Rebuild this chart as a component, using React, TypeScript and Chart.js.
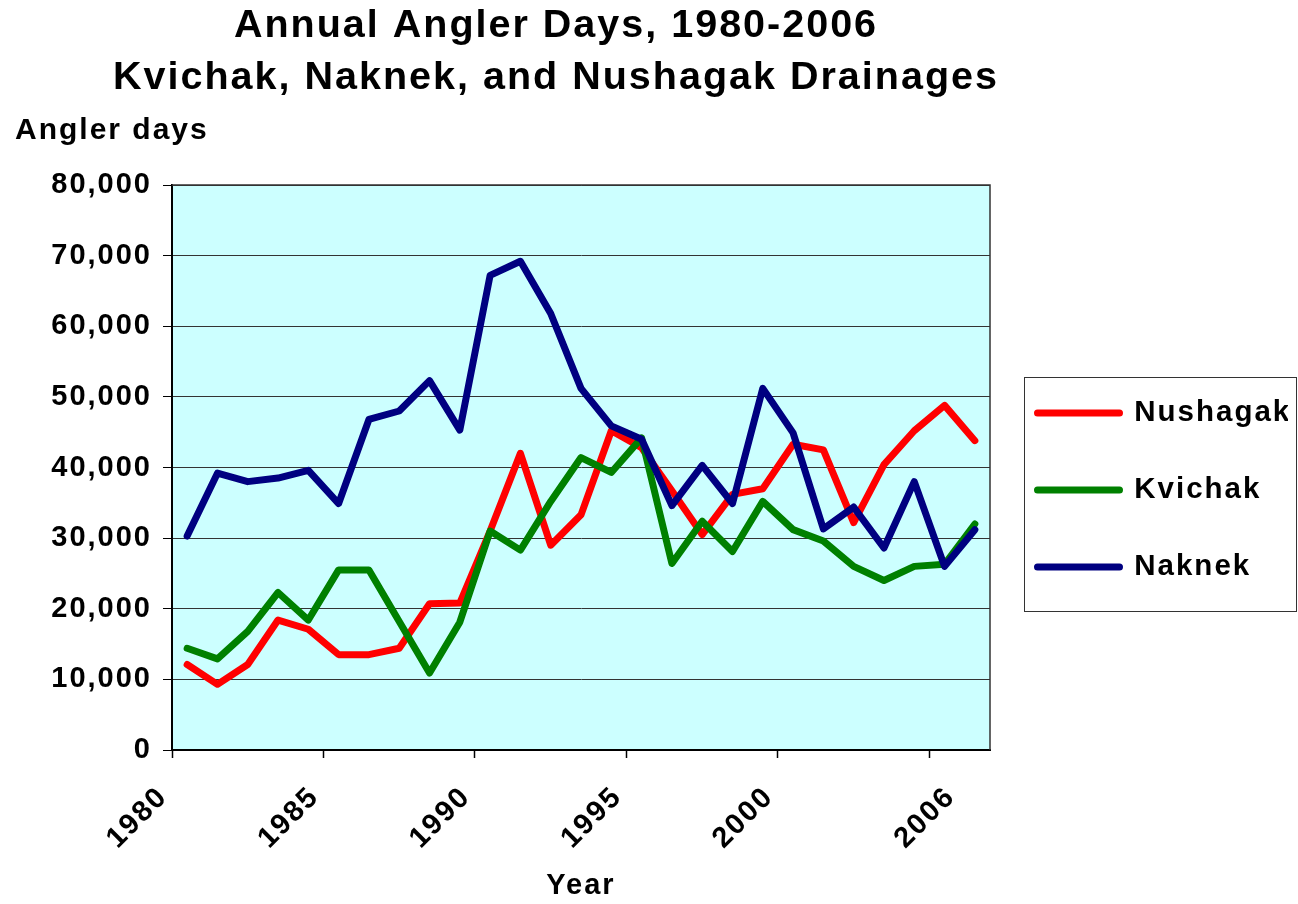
import React, { useEffect, useRef } from "react";
import { Chart, registerables } from "chart.js";

Chart.register(...registerables);

// ---------- data ----------
const years = [
  "1980", "1981", "1982", "1983", "1984", "1985", "1986", "1987", "1988",
  "1989", "1990", "1991", "1992", "1993", "1994", "1995", "1996", "1997",
  "1998", "1999", "2000", "2001", "2002", "2003", "2004", "2005", "2006",
];
const labeledYears = ["1980", "1985", "1990", "1995", "2000", "2006"];

const nushagak = [
  12100, 9300, 12100, 18400, 17100, 13500, 13500, 14400, 20700, 20800,
  31000, 42000, 29000, 33300, 45200, 42800, 36700, 30500, 36200, 37000,
  43300, 42500, 32200, 40400, 45200, 48800, 43800,
];
const kvichak = [
  14400, 12900, 16800, 22300, 18400, 25500, 25500, 18200, 10900, 18100,
  31000, 28300, 35200, 41400, 39300, 44200, 26400, 32400, 28100, 35200,
  31200, 29600, 26000, 24000, 26000, 26300, 32000,
];
const naknek = [
  30300, 39200, 38000, 38500, 39600, 34900, 46800, 48000, 52300, 45300,
  67200, 69200, 61800, 51200, 45900, 44000, 34600, 40300, 34900, 51200,
  44900, 31300, 34400, 28600, 38000, 26000, 31200,
];

const seriesNames = ["Nushagak", "Kvichak", "Naknek"];
const yMin = 0;
const yMax = 80000;
const yStep = 10000;

const titleLines = [
  "Annual Angler Days, 1980-2006",
  "Kvichak, Naknek, and Nushagak Drainages",
];
const yAxisTitle = "Angler days";
const xAxisTitle = "Year";

// ---------- styles ----------
const FAMILY = "'Liberation Sans', Arial, Helvetica, sans-serif";
const SPACING = "2px";

const chartPlugin = {
  id: "excelLook",
  beforeUpdate(chart: any) {
    chart.ctx.letterSpacing = SPACING;
  },
  afterLayout(chart: any) {
    const t = chart.titleBlock;
    if (t) {
      t.left = 100;
      t.right = 1012;
    }
    const lg = chart.legend;
    if (lg) {
      lg.top = 76;
    }
  },
  beforeDraw(chart: any) {
    const { ctx, chartArea } = chart;
    ctx.letterSpacing = SPACING;
    ctx.save();
    ctx.fillStyle = "#CCFFFF";
    ctx.fillRect(
      chartArea.left,
      chartArea.top,
      chartArea.right - chartArea.left,
      chartArea.bottom - chartArea.top
    );
    ctx.restore();
  },
  afterDraw(chart: any) {
    const { ctx, chartArea } = chart;
    ctx.save();
    ctx.strokeStyle = "#333333";
    ctx.lineWidth = 1.5;
    ctx.beginPath();
    ctx.moveTo(chartArea.left, chartArea.top);
    ctx.lineTo(chartArea.right, chartArea.top);
    ctx.lineTo(chartArea.right, chartArea.bottom);
    ctx.stroke();

    const lg = chart.legend;
    if (lg && lg.legendHitBoxes && lg.legendHitBoxes.length) {
      const hb = lg.legendHitBoxes;
      const first = hb[0];
      const last = hb[hb.length - 1];
      const left = Math.round(first.left - 14) + 0.5;
      const top = Math.round(first.top - 21) + 0.5;
      const bottom = Math.round(last.top + last.height + 29) + 0.5;
      const right = chart.width - 1.5;
      ctx.strokeStyle = "#333333";
      ctx.lineWidth = 1;
      ctx.strokeRect(left, top, right - left, bottom - top);
    }
    ctx.restore();
  },
};

export default function App() {
  const canvasRef = useRef<HTMLCanvasElement | null>(null);

  useEffect(() => {
    const canvas = canvasRef.current;
    if (!canvas) return;

    const font = (size: number) => ({ family: FAMILY, size, weight: "bold" as const });

    const mk = (label: string, data: number[], color: string, order: number) => ({
      label,
      data,
      borderColor: color,
      backgroundColor: color,
      borderWidth: 7,
      pointRadius: 0,
      pointHoverRadius: 0,
      borderJoinStyle: "round" as const,
      borderCapStyle: "round" as const,
      tension: 0,
      fill: false,
      order,
    });

    const chart = new Chart(canvas, {
      type: "line",
      data: {
        labels: years,
        datasets: [
          mk(seriesNames[0], nushagak, "#FF0000", 3),
          mk(seriesNames[1], kvichak, "#008000", 2),
          mk(seriesNames[2], naknek, "#000080", 1),
        ],
      },
      options: {
        responsive: false,
        animation: false,
        events: [],
        layout: { padding: { top: 0, left: 15, right: 10, bottom: 0 } },
        scales: {
          x: {
            type: "category",
            offset: true,
            grid: {
              offset: true,
              drawOnChartArea: false,
              drawTicks: true,
              tickLength: 8,
              tickWidth: 1.5,
              tickColor: (c: any) =>
                typeof c.index === "number" && c.index % 5 === 0 ? "#000000" : "rgba(0,0,0,0)",
            },
            border: { color: "#000000", width: 2 },
            ticks: {
              autoSkip: false,
              minRotation: 45,
              maxRotation: 45,
              labelOffset: -24,
              padding: 22,
              color: "#000000",
              font: font(29),
              callback: (_v: any, i: number) =>
                labeledYears.includes(years[i]) ? years[i] : "",
            },
            title: {
              display: true,
              text: xAxisTitle,
              color: "#000000",
              font: font(29),
              padding: { top: 0, bottom: 1 },
            },
            afterFit: (s: any) => {
              s.height = 154;
            },
          },
          y: {
            min: yMin,
            max: yMax,
            grid: {
              color: "#333333",
              lineWidth: 1,
              drawTicks: true,
              tickLength: 9,
              tickColor: "#000000",
            },
            border: { color: "#000000", width: 2 },
            ticks: {
              stepSize: yStep,
              color: "#000000",
              font: font(29),
              padding: 11,
              callback: (v: any) => Number(v).toLocaleString("en-US"),
            },
            afterFit: (s: any) => {
              s.width = 157;
            },
          },
        },
        plugins: {
          tooltip: { enabled: false },
          title: {
            display: true,
            text: titleLines,
            color: "#000000",
            font: { family: FAMILY, size: 39.5, weight: "bold", lineHeight: 52 / 39.5 },
            padding: { top: 0, bottom: 0 },
          },
          subtitle: {
            display: true,
            text: yAxisTitle,
            align: "start",
            color: "#000000",
            font: { family: FAMILY, size: 30, weight: "bold", lineHeight: 1.2 },
            padding: { top: 9, bottom: 36 },
          },
          legend: {
            display: true,
            position: "right",
            align: "center",
            maxWidth: 298,
            labels: {
              boxWidth: 82,
              boxHeight: 0,
              padding: 47.5,
              color: "#000000",
              font: { family: FAMILY, size: 29.5, weight: "bold", lineHeight: 1 },
              sort: (a: any, b: any) => a.datasetIndex - b.datasetIndex,
            },
          },
        },
      } as any,
      plugins: [chartPlugin],
    });

    return () => {
      chart.destroy();
    };
  }, []);

  return (
    <div style={{ position: "absolute", left: 0, top: 0, width: 1298, height: 904, background: "#ffffff" }}>
      <canvas ref={canvasRef} width={1298} height={904} style={{ display: "block" }} />
    </div>
  );
}
